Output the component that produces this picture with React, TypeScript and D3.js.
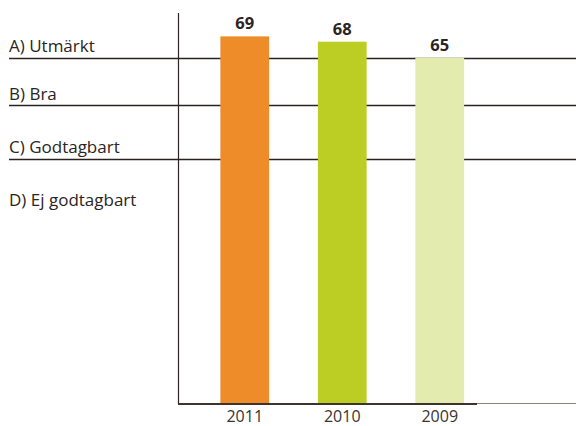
import React, { useRef, useEffect } from 'react';
import * as d3 from 'd3';

// Bars (years shown left to right)
const years = ['2011', '2010', '2009'];
const scores = [69, 68, 65];
const barColors = ['#EF8C2A', '#BCCD24', '#E3EBAE'];

// Grade bands: label sits just above its threshold line
const gradeLabels = ['A) Utmärkt', 'B) Bra', 'C) Godtagbart', 'D) Ej godtagbart'];
const gradeThresholds = [65, 56, 46, 36];
const drawnLines = [true, true, true, false];

const W = 576;
const H = 426;

const App = () => {
  const ref = useRef<SVGSVGElement | null>(null);

  useEffect(() => {
    if (!ref.current) return;
    const svg = d3.select(ref.current);
    svg.selectAll('*').remove();

    const axisX = 178;
    const baseY = 403;
    const font = "'Open Sans', 'Noto Sans', sans-serif";

    const y = d3.scaleLinear().domain([0, 73.4]).range([baseY, 13]);
    const x = d3
      .scaleBand<string>()
      .domain(years)
      .range([196, 488.5])
      .paddingInner(0.5)
      .paddingOuter(0.25);

    // grade threshold lines
    svg
      .selectAll('.grade-line')
      .data(gradeThresholds.filter((_, i) => drawnLines[i]))
      .enter()
      .append('line')
      .attr('x1', 9)
      .attr('x2', W)
      .attr('y1', (d) => Math.round(y(d)) + 0.5)
      .attr('y2', (d) => Math.round(y(d)) + 0.5)
      .attr('stroke', '#2b2220')
      .attr('stroke-width', 1.3);

    // grade labels
    svg
      .selectAll('.grade-label')
      .data(gradeLabels)
      .enter()
      .append('text')
      .attr('x', 9)
      .attr('y', (_, i) => y(gradeThresholds[i]) - 5.5)
      .attr('font-family', font)
      .attr('font-size', 17)
      .attr('fill', '#2b2422')
      .text((d) => d);

    // bars
    svg
      .selectAll('.bar')
      .data(scores)
      .enter()
      .append('rect')
      .attr('x', (_, i) => x(years[i]) ?? 0)
      .attr('width', x.bandwidth())
      .attr('y', (d) => y(d))
      .attr('height', (d) => baseY - y(d))
      .attr('fill', (_, i) => barColors[i]);

    // value labels
    svg
      .selectAll('.value')
      .data(scores)
      .enter()
      .append('text')
      .attr('x', (_, i) => (x(years[i]) ?? 0) + x.bandwidth() / 2)
      .attr('y', (d) => y(d) - 7)
      .attr('text-anchor', 'middle')
      .attr('font-family', font)
      .attr('font-weight', 'bold')
      .attr('font-size', 16.5)
      .attr('fill', '#2b2422')
      .text((d) => d);

    // year labels
    svg
      .selectAll('.year')
      .data(years)
      .enter()
      .append('text')
      .attr('x', (d) => (x(d) ?? 0) + x.bandwidth() / 2)
      .attr('y', 421.5)
      .attr('text-anchor', 'middle')
      .attr('font-family', font)
      .attr('font-size', 16)
      .attr('fill', '#3a3330')
      .text((d) => d);

    // axes
    svg
      .append('line')
      .attr('x1', axisX + 0.5)
      .attr('x2', axisX + 0.5)
      .attr('y1', 13)
      .attr('y2', baseY + 1)
      .attr('stroke', '#2b2422')
      .attr('stroke-width', 1.2);

    svg
      .append('line')
      .attr('x1', 476)
      .attr('x2', W)
      .attr('y1', baseY + 0.5)
      .attr('y2', baseY + 0.5)
      .attr('stroke', '#8a8480')
      .attr('stroke-width', 1.2);

    svg
      .append('line')
      .attr('x1', axisX)
      .attr('x2', 477)
      .attr('y1', baseY + 1)
      .attr('y2', baseY + 1)
      .attr('stroke', '#3d3430')
      .attr('stroke-width', 2);
  }, []);

  return (
    <div style={{ position: 'absolute', left: 0, top: 0, background: '#fff' }}>
      <svg ref={ref} width={W} height={H} style={{ display: 'block' }} />
    </div>
  );
};

export default App;
